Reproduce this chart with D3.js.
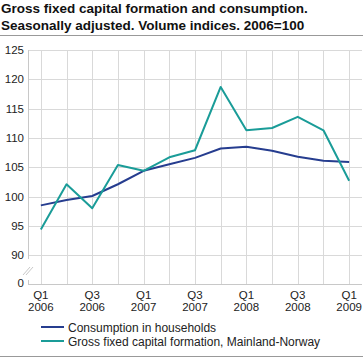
<!DOCTYPE html>
<html><head><meta charset="utf-8">
<script src="https://cdn.jsdelivr.net/npm/d3@7"></script>
<style>
body{margin:0;background:#fff;}
svg{display:block;font-family:"Liberation Sans",Arial,sans-serif;}
</style></head>
<body><svg id="c" width="363" height="358"></svg>
<script>
const quarters = ["Q1 2006","Q2 2006","Q3 2006","Q4 2006","Q1 2007","Q2 2007","Q3 2007","Q4 2007","Q1 2008","Q2 2008","Q3 2008","Q4 2008","Q1 2009"];
const consumption = [98.5,99.4,100.1,102.1,104.4,105.5,106.6,108.2,108.5,107.8,106.8,106.1,105.9];
const gfcf = [94.4,102.1,98.0,105.4,104.4,106.7,107.9,118.7,111.3,111.7,113.6,111.3,102.7];
const yTicks = [90,95,100,105,110,115,120,125];
const seriesNames = ["Consumption in households","Gross fixed capital formation, Mainland-Norway"];
const colors = ["#263d8f","#1a9c98"];

(function(){
const svg = d3.select("#c");
const pL = 28, pR = 362, pT = 50, pB = 284.5;

svg.append("text").attr("x",1).attr("y",13).attr("font-size",13.5).attr("font-weight","bold").attr("fill","#111")
  .text("Gross fixed capital formation and consumption.");
svg.append("text").attr("x",1).attr("y",29.5).attr("font-size",13.5).attr("font-weight","bold").attr("fill","#111")
  .text("Seasonally adjusted. Volume indices. 2006=100");
svg.append("line").attr("x1",0).attr("x2",363).attr("y1",35.5).attr("y2",35.5).attr("stroke","#999");
svg.append("line").attr("x1",0).attr("x2",363).attr("y1",356.5).attr("y2",356.5).attr("stroke","#999");

const x = d3.scalePoint().domain(quarters).range([pL,pR]).padding(0.5);
const y = d3.scaleLinear().domain([85,125]).range([pB,pT]);

svg.append("g").selectAll("line").data(yTicks).join("line")
  .attr("x1",pL).attr("x2",pR)
  .attr("y1",d=>Math.round(y(d))+0.5).attr("y2",d=>Math.round(y(d))+0.5)
  .attr("stroke","#d9d9d9");
svg.append("g").selectAll("line").data(quarters).join("line")
  .attr("x1",d=>Math.round(x(d))+0.5).attr("x2",d=>Math.round(x(d))+0.5)
  .attr("y1",pT).attr("y2",pB)
  .attr("stroke","#d9d9d9");
svg.append("line").attr("x1",pL+0.5).attr("x2",pL+0.5).attr("y1",pT).attr("y2",259).attr("stroke","#c8c8c8");
svg.append("line").attr("x1",pL+0.5).attr("x2",pL+0.5).attr("y1",280).attr("y2",pB).attr("stroke","#c8c8c8");
svg.append("line").attr("x1",pL).attr("x2",pR).attr("y1",pB).attr("y2",pB).attr("stroke","#c8c8c8");
[0,3].forEach(o=>{
  svg.append("line").attr("x1",23+o).attr("y1",275).attr("x2",30+o).attr("y2",267).attr("stroke","#c8c8c8");
});

const yl = svg.append("g").attr("font-size",11.5).attr("fill","#222").attr("text-anchor","end");
yTicks.forEach(t=>{
  yl.append("text").attr("x",24).attr("y",y(t)+4).text(t);
});
yl.append("text").attr("x",24).attr("y",y(85)+2).text("0");

const xl = svg.append("g").attr("font-size",11.5).attr("fill","#222").attr("text-anchor","middle");
quarters.forEach((q,i)=>{
  if(i%2===0){
    const [qq,yr] = q.split(" ");
    xl.append("text").attr("x",x(q)).attr("y",299).text(qq);
    xl.append("text").attr("x",x(q)).attr("y",311).text(yr);
  }
});

const line = d3.line().x((d,i)=>x(quarters[i])).y(d=>y(d));
[consumption,gfcf].forEach((s,k)=>{
  svg.append("path").datum(s).attr("d",line).attr("fill","none")
    .attr("stroke",colors[k]).attr("stroke-width",2).attr("stroke-linejoin","round");
});

seriesNames.forEach((n,k)=>{
  const ly = 327 + k*14;
  svg.append("line").attr("x1",41).attr("x2",64).attr("y1",ly).attr("y2",ly).attr("stroke",colors[k]).attr("stroke-width",2);
  svg.append("text").attr("x",68).attr("y",ly+4.5).attr("font-size",12).attr("fill","#222").text(n);
});
})();
</script></body></html>
